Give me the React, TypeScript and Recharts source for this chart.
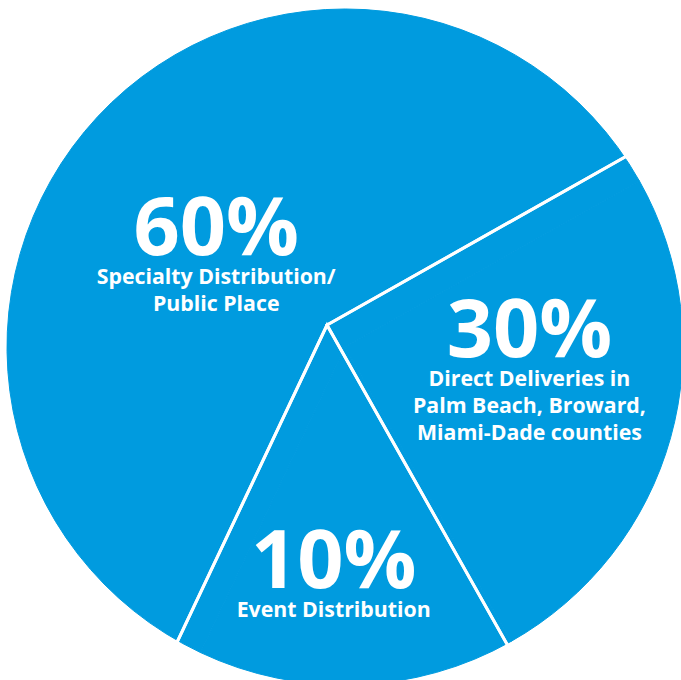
import { PieChart, Pie, Cell } from 'recharts';

const SEGMENTS = ['Event Distribution', 'Direct Deliveries', 'Specialty Distribution'];
// slice sizes as drawn in the picture (the printed labels say 10/30/60)
const SHARE = [15.2, 25, 59.8];
const PCT_LABELS = ['10%', '30%', '60%'];
const CAPTIONS = [
  ['Event Distribution'],
  ['Direct Deliveries in', 'Palm Beach, Broward,', 'Miami-Dade counties'],
  ['Specialty Distribution/', 'Public Place'],
];

const BLUE = '#009bdf';
const FONT = '"Open Sans", "DejaVu Sans", sans-serif';
const RAD = Math.PI / 180;

// label placement relative to the slice mid angle
const LABEL_R = [263, 205, 131];
const LABEL_SHIFT = [-0.6, 6.5, 10.7];

const data = SEGMENTS.map((name, i) => ({ name, value: SHARE[i] }));

const renderLabel = (props: any) => {
  const { midAngle, index } = props;
  const cx = typeof props.cx === 'number' ? props.cx : 327;
  const cy = typeof props.cy === 'number' ? props.cy : 325;
  const a = (midAngle + LABEL_SHIFT[index]) * RAD;
  const x = cx + LABEL_R[index] * Math.cos(-a);
  const y = cy + LABEL_R[index] * Math.sin(-a);
  return (
    <text
      key={`lbl-${index}`}
      x={x}
      y={y}
      textAnchor="middle"
      fill="#fff"
      fontWeight={700}
      fontFamily={FONT}
    >
      <tspan x={x} y={y} fontSize={81}>
        {PCT_LABELS[index]}
      </tspan>
      {CAPTIONS[index].map((line, i) => (
        <tspan key={line} x={x} y={y + 29 + 27 * i} fontSize={21.3}>
          {line}
        </tspan>
      ))}
    </text>
  );
};

export default function App() {
  return (
    <div style={{ position: 'absolute', left: 0, top: 0, width: 681, height: 680, background: '#fff' }}>
      <PieChart width={681} height={680} margin={{ top: 0, right: 0, bottom: 0, left: 0 }}>
        {/* the disc */}
        <Pie
          data={data}
          dataKey="value"
          cx={345}
          cy={347}
          outerRadius={338}
          startAngle={-115.3}
          endAngle={244.7}
          stroke={BLUE}
          strokeWidth={1}
          isAnimationActive={false}
        >
          {data.map((_, i) => (
            <Cell key={`disc-${i}`} fill={BLUE} stroke={BLUE} />
          ))}
        </Pie>
        {/* dividers, meeting off centre */}
        <Pie
          data={data}
          dataKey="value"
          cx={327}
          cy={325}
          outerRadius={420}
          startAngle={-115.3}
          endAngle={244.7}
          label={renderLabel}
          labelLine={false}
          isAnimationActive={false}
        >
          {data.map((_, i) => (
            <Cell key={`div-${i}`} fill="none" stroke="#fff" strokeWidth={3} />
          ))}
        </Pie>
      </PieChart>
    </div>
  );
}
